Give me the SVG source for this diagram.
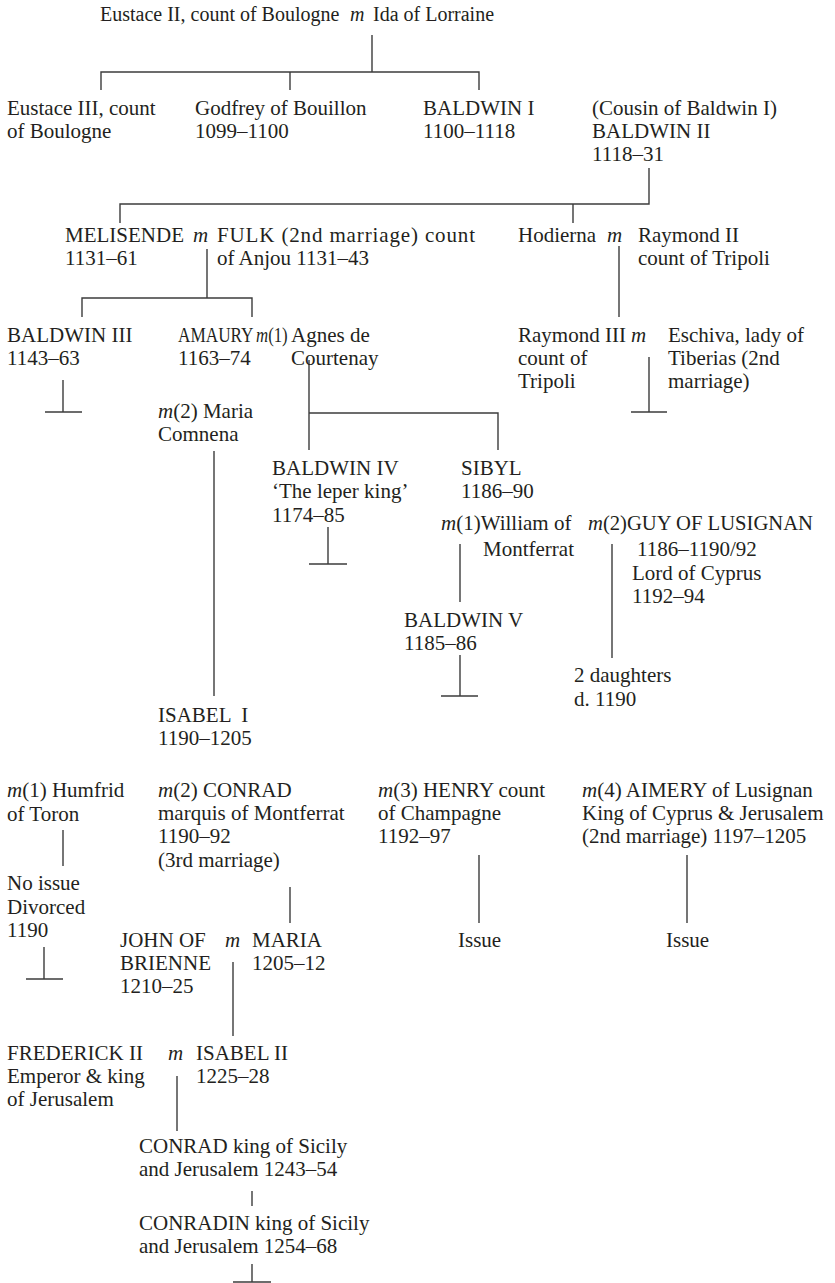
<svg xmlns="http://www.w3.org/2000/svg" width="835" height="1283" viewBox="0 0 835 1283">
<style>
text{font-family:"Liberation Serif","Times New Roman",serif;font-size:21px;fill:#231f20}
.t{font-size:20px}
.i{font-style:italic}
.c{fill:none;stroke:#3c3c3c;stroke-width:1.4}
</style>
<rect width="835" height="1283" fill="#fff"/>
<g id="connectors" class="c">
<path d="M372,35V72M101,90V72H479V90M290,72V90"/>
<path d="M649,168V204H120V223M573,204V223"/>
<path d="M207,249V298M82,317V298H252V317"/>
<path d="M619,246V317"/>
<path d="M63,380V412M45,412H82"/>
<path d="M649,357V412M631,412H667"/>
<path d="M309,360V450M309,413H498V450"/>
<path d="M214,451V696"/>
<path d="M328,527V564M309,564H347"/>
<path d="M460,544V602"/>
<path d="M460,655V696M441,696H478"/>
<path d="M612,544V658"/>
<path d="M63,830V866"/>
<path d="M44,947V979M26,979H63"/>
<path d="M290,887V923"/>
<path d="M479,855V923M687,855V923"/>
<path d="M233,962V1036"/>
<path d="M177,1076V1131"/>
<path d="M252,1191V1206"/>
<path d="M252,1264V1282M233,1282H271"/>
</g>
<g id="eustace2"><text x="100" y="21" class="t">Eustace II, count of Boulogne</text></g>
<g id="m-top"><text x="350" y="21" class="t i">m</text></g>
<g id="ida"><text x="373" y="21" class="t">Ida of Lorraine</text></g>
<g id="eustace3"><text x="7" y="115">Eustace III, count</text><text x="7" y="138">of Boulogne</text></g>
<g id="godfrey"><text x="195" y="115">Godfrey of Bouillon</text><text x="195" y="138">1099–1100</text></g>
<g id="baldwin1"><text x="423" y="115">BALDWIN I</text><text x="423" y="138">1100–1118</text></g>
<g id="baldwin2"><text x="592" y="115">(Cousin of Baldwin I)</text><text x="592" y="138">BALDWIN II</text><text x="592" y="161">1118–31</text></g>
<g id="melisende"><text x="65" y="242">MELISENDE</text><text x="65" y="265">1131–61</text><text x="193" y="242" class="i">m</text></g>
<g id="fulk"><text x="217" y="242" textLength="258" lengthAdjust="spacing">FULK (2nd marriage) count</text><text x="217" y="265">of Anjou 1131–43</text></g>
<g id="hodierna"><text x="518" y="242">Hodierna</text><text x="607" y="242" class="i">m</text></g>
<g id="raymond2"><text x="638" y="242">Raymond II</text><text x="638" y="265">count of Tripoli</text></g>
<g id="baldwin3"><text x="7" y="342">BALDWIN III</text><text x="7" y="365">1143–63</text></g>
<g id="amaury"><text transform="translate(178,342) scale(0.82,1)">AMAURY</text><text x="178" y="365">1163–74</text><text transform="translate(256,342) scale(0.8,1)"><tspan class="i">m</tspan>(1)</text></g>
<g id="agnes"><text x="291" y="342">Agnes de</text><text x="291" y="365">Courtenay</text></g>
<g id="raymond3"><text x="518" y="342">Raymond III</text><text x="518" y="365">count of</text><text x="518" y="388">Tripoli</text><text x="631" y="342" class="i">m</text></g>
<g id="eschiva"><text x="668" y="342">Eschiva, lady of</text><text x="668" y="365">Tiberias (2nd</text><text x="668" y="388">marriage)</text></g>
<g id="maria-comnena"><text x="158" y="418"><tspan class="i">m</tspan>(2) Maria</text><text x="158" y="441">Comnena</text></g>
<g id="baldwin4"><text x="272" y="475">BALDWIN IV</text><text x="272" y="498">‘The leper king’</text><text x="272" y="522">1174–85</text></g>
<g id="sibyl"><text x="461" y="475">SIBYL</text><text x="461" y="498">1186–90</text></g>
<g id="william"><text x="441" y="530"><tspan class="i">m</tspan>(1)William of</text><text x="483" y="556">Montferrat</text></g>
<g id="guy"><text x="588" y="530" textLength="225" lengthAdjust="spacingAndGlyphs"><tspan class="i">m</tspan>(2)GUY OF LUSIGNAN</text><text x="637" y="556">1186–1190/92</text><text x="632" y="580">Lord of Cyprus</text><text x="632" y="603">1192–94</text></g>
<g id="baldwin5"><text x="404" y="627">BALDWIN V</text><text x="404" y="650">1185–86</text></g>
<g id="daughters"><text x="574" y="682">2 daughters</text><text x="574" y="706">d. 1190</text></g>
<g id="isabel1"><text x="158" y="722" xml:space="preserve">ISABEL  I</text><text x="158" y="745">1190–1205</text></g>
<g id="humfrid"><text x="7" y="797"><tspan class="i">m</tspan>(1) Humfrid</text><text x="7" y="821">of Toron</text></g>
<g id="conrad-m"><text x="158" y="797"><tspan class="i">m</tspan>(2) CONRAD</text><text x="158" y="820">marquis of Montferrat</text><text x="158" y="843">1190–92</text><text x="158" y="867">(3rd marriage)</text></g>
<g id="henry"><text x="378" y="797"><tspan class="i">m</tspan>(3) HENRY count</text><text x="378" y="820">of Champagne</text><text x="378" y="843">1192–97</text></g>
<g id="aimery"><text x="582" y="797"><tspan class="i">m</tspan>(4) AIMERY of Lusignan</text><text x="582" y="820">King of Cyprus &amp; Jerusalem</text><text x="582" y="843">(2nd marriage) 1197–1205</text></g>
<g id="noissue"><text x="7" y="890">No issue</text><text x="7" y="914">Divorced</text><text x="7" y="937">1190</text></g>
<g id="issue-henry"><text x="458" y="947">Issue</text></g>
<g id="issue-aimery"><text x="666" y="947">Issue</text></g>
<g id="john"><text x="120" y="947">JOHN OF</text><text x="120" y="970">BRIENNE</text><text x="120" y="993">1210–25</text><text x="225" y="947" class="i">m</text></g>
<g id="maria"><text x="252" y="947">MARIA</text><text x="252" y="970">1205–12</text></g>
<g id="frederick"><text x="7" y="1060">FREDERICK II</text><text x="7" y="1083">Emperor &amp; king</text><text x="7" y="1106">of Jerusalem</text><text x="168" y="1060" class="i">m</text></g>
<g id="isabel2"><text x="196" y="1060">ISABEL II</text><text x="196" y="1083">1225–28</text></g>
<g id="conrad4"><text x="139" y="1153">CONRAD king of Sicily</text><text x="139" y="1176">and Jerusalem 1243–54</text></g>
<g id="conradin"><text x="139" y="1230">CONRADIN king of Sicily</text><text x="139" y="1253">and Jerusalem 1254–68</text></g>
</svg>
